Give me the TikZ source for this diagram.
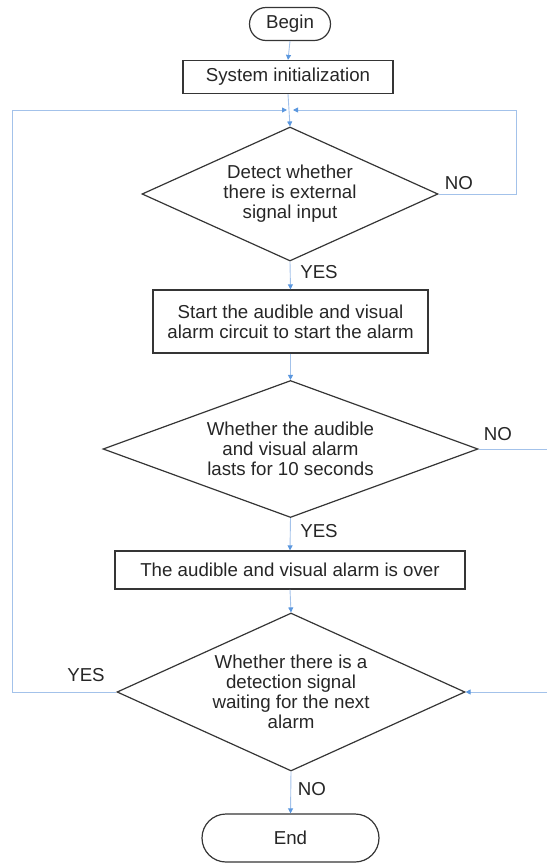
\documentclass[tikz,border=0pt]{standalone}
\usepackage{fontspec}
\setmainfont{Liberation Sans}
\usetikzlibrary{shapes.geometric,shapes.misc,arrows.meta}
\definecolor{ink}{HTML}{262626}
\definecolor{edge}{HTML}{353535}
\definecolor{flow}{HTML}{A3C2EA}
\definecolor{tip}{HTML}{5B97DE}

\begin{document}
\begin{tikzpicture}[x=1pt,y=-1pt,
  every node/.style={font=\fontsize{18.7}{20}\selectfont, text=ink},
  terminal/.style={rounded rectangle, draw=edge, line width=1.2pt, inner sep=0pt},
  process/.style={rectangle, draw=edge, line width=1.2pt, align=center, inner sep=0pt},
  decision/.style={diamond, draw=edge, line width=1.2pt, align=center, inner sep=0pt},
  flowline/.style={draw=flow, line width=0.9pt},
  flowarrow/.style={flowline, -{Triangle[length=5pt,width=5pt,color=tip]}},
  lbl/.style={inner sep=0pt}
]
\useasboundingbox (0,0) rectangle (547,863);

% shapes of the flow
\node[terminal, minimum width=81pt, minimum height=33pt] (begin) at (290,24) {Begin};
\node[process, minimum width=210pt, minimum height=33pt] (init) at (288,77) {System initialization};
\node[decision, aspect=2.21, minimum width=296pt, minimum height=134pt] (d1) at (290,194)
  {Detect whether\\there is external\\signal input};
\node[process, minimum width=275pt, minimum height=63pt] (start) at (290.5,321.5)
  {Start the audible and visual\\alarm circuit to start the alarm};
\node[decision, aspect=2.74, minimum width=375pt, minimum height=137pt] (d2) at (290.5,449)
  {Whether the audible\\and visual alarm\\lasts for 10 seconds};
\node[process, minimum width=350pt, minimum height=38pt] (over) at (290,570)
  {The audible and visual alarm is over};
\node[decision, aspect=2.2, minimum width=348pt, minimum height=158pt] (d3) at (291,692)
  {Whether there is a\\detection signal\\waiting for the next\\alarm};
\node[terminal, minimum width=177pt, minimum height=48pt] (end) at (290.5,838) {End};

% branch labels
\node[lbl] (no1) at (459,183) {NO};
\node[lbl] (yes1) at (319,272) {YES};
\node[lbl] (no2) at (498,434) {NO};
\node[lbl] (yes2) at (319,531) {YES};
\node[lbl] (yes3) at (86,675) {YES};
\node[lbl] (no3) at (312,789) {NO};

% rails of the loops
\coordinate (join) at (290,110);
\coordinate (leftrail) at (12,110);
\coordinate (rightrail) at (516,110);
\coordinate (pageedge) at (547,0);

% connectors
\draw[flowarrow] (begin.south) -- (init.north);
\draw[flowarrow] (init.south) -- (d1.north);
\draw[flowarrow] (d1.east) -| (rightrail) -- ([xshift=3pt]join);
\draw[flowarrow] (d1.south) -- (start.north);
\draw[flowarrow] (start.south) -- (d2.north);
\draw[flowline] (d2.east) -- (d2.east -| pageedge);
\draw[flowarrow] (d2.south) -- (over.north);
\draw[flowarrow] (over.south) -- (d3.north);
\draw[flowarrow] (d3.east -| pageedge) -- (d3.east);
\draw[flowarrow] (d3.west) -| (leftrail) -- ([xshift=-3pt]join);
\draw[flowarrow] (d3.south) -- (end.north);
\end{tikzpicture}
\end{document}
